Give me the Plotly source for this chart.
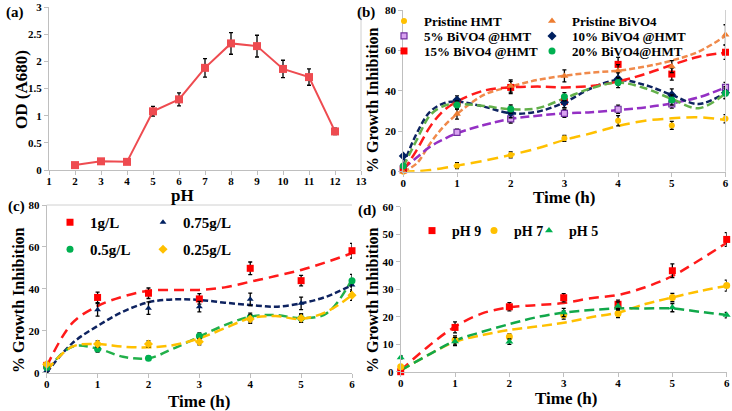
import plotly.graph_objects as go

W, H = 732, 411
SERIF = "Liberation Serif"

# ---------------- Panel (a) data ----------------
ph_values = [2, 3, 4, 5, 6, 7, 8, 9, 10, 11, 12]
od_a680 = [0.09, 0.16, 0.15, 1.08, 1.30, 1.88, 2.33, 2.28, 1.86, 1.71, 0.71]
od_err = [0.02, 0.03, 0.03, 0.09, 0.12, 0.17, 0.20, 0.20, 0.16, 0.15, 0.06]

# ---------------- Panel (b) data ----------------
time_h = [0, 1, 2, 3, 4, 5, 6]
b_names = ["Pristine HMT", "Pristine BiVO4", "5% BiVO4 @HMT",
           "10% BiVO4 @HMT", "15% BiVO4 @HMT", "20% BiVO4@HMT"]
b_hmt = [0, 3.0, 8.3, 16.5, 25.2, 22.9, 26.2]
b_bivo4 = [0, 28.5, 42.4, 47.4, 50.0, 52.0, 67.7]
b_5pct = [1.5, 19.5, 26.1, 28.9, 30.9, 33.5, 41.7]
b_10pct = [7.8, 35.5, 29.2, 34.2, 45.9, 38.0, 39.1]
b_15pct = [1.0, 33.8, 41.7, 34.7, 53.1, 48.3, 59.1]
b_20pct = [2.8, 33.0, 31.0, 37.1, 44.1, 35.5, 38.8]
b_hmt_err = [0.5, 1.5, 1.5, 1.5, 2.5, 2.0, 2.0]
b_bivo4_err = [0.5, 2.5, 3.0, 3.0, 3.0, 3.0, 5.0]
b_5pct_err = [0.5, 1.5, 2.0, 2.0, 2.0, 2.0, 2.5]
b_10pct_err = [0.5, 2.0, 2.5, 2.5, 3.0, 3.0, 3.0]
b_15pct_err = [0.5, 2.5, 3.0, 3.0, 3.5, 3.0, 3.5]
b_20pct_err = [0.5, 2.0, 2.0, 2.0, 2.5, 2.5, 2.5]
# trend lines
b_trend_t = [0, 0.25, 0.5, 0.75, 1, 1.5, 2, 2.5, 3, 3.5, 4, 4.5, 5, 5.5, 6]
b_hmt_trend = [0, 0.3, 0.8, 1.8, 3.0, 5.4, 8.3, 11.6, 15.7, 19.0, 22.6, 25.2, 26.4, 26.9, 25.6]
b_bivo4_trend = [0, 4.1, 14.0, 22.3, 28.5, 38.0, 42.1, 45.4, 47.5, 49.0, 50.0, 52.0, 55.0, 59.4, 67.2]
b_5pct_trend = [1.6, 7.0, 12.4, 16.0, 19.0, 23.1, 26.1, 27.7, 28.9, 29.4, 30.5, 31.8, 33.8, 36.8, 41.7]
b_10pct_trend = [3.3, 19.0, 29.7, 33.8, 34.7, 32.2, 28.9, 29.7, 34.3, 41.3, 45.4, 42.9, 38.0, 33.5, 39.1]
b_15pct_trend = [0.5, 10.7, 22.3, 30.2, 34.7, 40.1, 41.7, 42.1, 41.7, 42.4, 44.6, 48.3, 52.8, 56.9, 58.9]
b_20pct_trend = [2.5, 15.7, 28.0, 32.5, 33.5, 32.5, 30.9, 31.4, 36.3, 41.3, 44.1, 41.3, 36.0, 31.4, 38.8]

# ---------------- Panel (c) data ----------------
c_names = ["1g/L", "0.75g/L", "0.5g/L", "0.25g/L"]
c_1g = [3.5, 35.9, 37.9, 35.2, 49.8, 43.9, 58.2]
c_075g = [1.0, 30.0, 30.8, 31.5, 35.0, 33.1, 41.8]
c_05g = [2.5, 11.3, 6.9, 17.5, 26.4, 26.0, 43.9]
c_025g = [4.0, 13.7, 13.7, 14.8, 25.6, 26.0, 37.0]
c_1g_err = [1.0, 2.5, 2.5, 2.5, 3.0, 2.5, 3.5]
c_075g_err = [1.0, 3.0, 3.0, 2.5, 3.0, 3.0, 3.0]
c_05g_err = [1.0, 1.5, 1.0, 1.5, 2.0, 2.0, 3.0]
c_025g_err = [1.0, 1.5, 1.5, 1.5, 2.0, 2.0, 2.5]
c_trend_t = [0, 0.5, 1, 1.5, 2, 2.5, 3, 3.5, 4, 4.5, 5, 5.5, 6]
c_1g_trend = [3.0, 23.6, 31.8, 36.3, 39.1, 39.5, 39.5, 40.7, 43.4, 46.1, 49.0, 52.8, 57.0]
c_075g_trend = [0, 14.0, 22.3, 29.1, 33.6, 35.0, 34.7, 33.4, 32.3, 31.5, 33.1, 36.3, 41.8]
c_05g_trend = [1.0, 12.4, 11.5, 7.6, 6.9, 11.6, 17.2, 22.7, 26.7, 27.5, 26.0, 28.3, 44.5]
c_025g_trend = [1.0, 12.4, 13.7, 12.4, 12.1, 13.2, 16.4, 21.2, 26.0, 27.0, 25.6, 29.1, 37.0]

# ---------------- Panel (d) data ----------------
d_names = ["pH 9", "pH 7", "pH 5"]
d_ph9 = [0, 16.1, 23.6, 26.9, 24.5, 36.7, 48.1]
d_ph7 = [1.8, 11.5, 12.7, 20.6, 21.2, 27.0, 31.3]
d_ph5 = [5.2, 11.0, 10.9, 21.5, 23.9, 23.3, 20.6]
d_ph9_err = [0.5, 2.0, 1.5, 1.5, 1.5, 2.5, 2.5]
d_ph7_err = [0.5, 1.5, 1.0, 1.5, 1.5, 1.5, 2.0]
d_ph5_err = [0.5, 1.5, 1.0, 1.5, 1.5, 1.5, 1.0]
d_trend_t = [0, 0.5, 1, 1.5, 2, 2.5, 3, 3.5, 4, 4.5, 5, 5.5, 6]
d_ph9_trend = [0.5, 9.1, 16.4, 21.2, 23.4, 24.2, 25.0, 26.7, 27.9, 30.7, 34.8, 40.6, 46.9]
d_ph7_trend = [0.5, 6.0, 10.9, 13.3, 15.2, 16.4, 17.8, 19.8, 21.5, 24.6, 27.0, 29.3, 31.2]
d_ph5_trend = [0.5, 6.0, 11.3, 14.5, 17.3, 19.8, 21.5, 22.4, 23.0, 23.0, 23.0, 21.8, 20.6]

# ---------------- helpers (page pixels -> paper fractions) ----------------
def px_x(p):
    return p / W

def px_y(p):
    return 1 - p / H

def clamp(v):
    return min(1.0, max(0.0, v))

def err(vals):
    return dict(type="data", array=vals, visible=True, color="black", thickness=1.3, width=2)

fig = go.Figure()

def marker_trace(x, y, e, name, color, symbol, xa, ya, leg, size=7, line_color=None):
    fig.add_trace(go.Scatter(
        x=x, y=y, mode="markers", name=name, error_y=err(e),
        marker=dict(color=color, symbol=symbol, size=size,
                    line=dict(color=line_color or color, width=1.2 if line_color else 0)),
        xaxis=xa, yaxis=ya, legend=leg, showlegend=True, cliponaxis=False))

def trend_trace(x, y, color, dash, xa, ya, width=2.5):
    fig.add_trace(go.Scatter(
        x=x, y=y, mode="lines", line=dict(color=color, dash=dash, width=width, shape="spline", smoothing=1),
        xaxis=xa, yaxis=ya, showlegend=False, hoverinfo="skip", cliponaxis=False))

# Panel (a)
fig.add_trace(go.Scatter(
    x=ph_values, y=od_a680, mode="lines+markers", error_y=err(od_err),
    line=dict(color="#EE4B50", width=2),
    marker=dict(symbol="square", size=8, color="#EE4B50"),
    xaxis="x", yaxis="y", showlegend=False, cliponaxis=False))

# Panel (b)
GOLD, ORANGE, PURPLE, NAVY, RED, GREEN = "#FFC000", "#F08A4B", "#9430C4", "#0E2360", "#FF1A1A", "#63B04A"
trend_trace(b_trend_t, b_hmt_trend, GOLD, "11px,6px", "x2", "y2")
trend_trace(b_trend_t, b_bivo4_trend, ORANGE, "6px,3px", "x2", "y2")
trend_trace(b_trend_t, b_5pct_trend, PURPLE, "9px,4px", "x2", "y2")
trend_trace(b_trend_t, b_10pct_trend, NAVY, "6px,3px", "x2", "y2")
trend_trace(b_trend_t, b_15pct_trend, RED, "10px,5px", "x2", "y2")
trend_trace(b_trend_t, b_20pct_trend, GREEN, "8px,4px", "x2", "y2")
marker_trace(time_h, b_hmt, b_hmt_err, b_names[0], "#FFC000", "circle", "x2", "y2", "legend2", 6)
marker_trace(time_h, b_5pct, b_5pct_err, b_names[2], "#D9A2F0", "square", "x2", "y2", "legend3", 6, line_color="#7030A0")
marker_trace(time_h, b_15pct, b_15pct_err, b_names[4], "#FF0000", "square", "x2", "y2", "legend4", 7)
marker_trace(time_h, b_bivo4, b_bivo4_err, b_names[1], "#ED7D31", "triangle-up", "x2", "y2", "legend5", 7)
marker_trace(time_h, b_10pct, b_10pct_err, b_names[3], "#002060", "diamond", "x2", "y2", "legend6", 7)
marker_trace(time_h, b_20pct, b_20pct_err, b_names[5], "#00B050", "circle", "x2", "y2", "legend7", 7)

# Panel (c)
trend_trace(c_trend_t, c_1g_trend, "#FF1A1A", "10px,6px", "x3", "y3")
trend_trace(c_trend_t, c_075g_trend, "#0E2360", "6px,3px", "x3", "y3")
trend_trace(c_trend_t, c_05g_trend, "#22B04A", "9px,5px", "x3", "y3")
trend_trace(c_trend_t, c_025g_trend, "#FFC000", "10px,5px", "x3", "y3")
marker_trace(time_h, c_1g, c_1g_err, c_names[0], "#FF0000", "square", "x3", "y3", "legend8", 7)
marker_trace(time_h, c_075g, c_075g_err, c_names[1], "#002060", "triangle-up", "x3", "y3", "legend9", 6)
marker_trace(time_h, c_05g, c_05g_err, c_names[2], "#00B050", "circle", "x3", "y3", "legend10", 7)
marker_trace(time_h, c_025g, c_025g_err, c_names[3], "#FFC000", "diamond", "x3", "y3", "legend11", 7)

# Panel (d)
trend_trace(d_trend_t, d_ph9_trend, "#FF1A1A", "10px,6px", "x4", "y4")
trend_trace(d_trend_t, d_ph7_trend, "#FFC000", "10px,5px", "x4", "y4")
trend_trace(d_trend_t, d_ph5_trend, "#11A84A", "10px,5px", "x4", "y4")
marker_trace(time_h, d_ph9, d_ph9_err, d_names[0], "#FF0000", "square", "x4", "y4", "legend12", 7)
marker_trace(time_h, d_ph7, d_ph7_err, d_names[1], "#FFC000", "circle", "x4", "y4", "legend13", 7)
marker_trace(time_h, d_ph5, d_ph5_err, d_names[2], "#00B050", "triangle-up", "x4", "y4", "legend14", 7)

# ---------------- axes ----------------
tickfont = dict(family=SERIF, size=11, color="black", weight="bold")

def axis(domain, rng, dtick, anchor, standoff=None):
    d = dict(domain=[clamp(domain[0]), clamp(domain[1])], range=rng, dtick=dtick, tick0=rng[0],
             anchor=anchor, showline=True, linecolor="#BFBFBF", linewidth=1, ticks="outside",
             ticklen=4, tickcolor="#BFBFBF", showgrid=False, zeroline=False, tickfont=tickfont,
             fixedrange=True, automargin=False, ticklabeloverflow="allow")
    if standoff is not None:
        d["ticklabelstandoff"] = standoff
    return d

layout = dict(
    template="none",
    width=W, height=H, margin=dict(l=0, r=0, t=0, b=0, autoexpand=False),
    paper_bgcolor="white", plot_bgcolor="white", showlegend=True,
    xaxis=axis([px_x(49), px_x(361)], [1, 13], 1, "y", -3),
    yaxis=axis([px_y(170), px_y(7)], [0, 3], 0.5, "x"),
    xaxis2=axis([px_x(403.3), px_x(725.5)], [0, 6], 1, "y2", -3),
    yaxis2=axis([px_y(171.7), px_y(10)], [0, 80], 20, "x2"),
    xaxis3=axis([px_x(46.7), px_x(352)], [0, 6], 1, "y3", -3),
    yaxis3=axis([px_y(372.7), px_y(205)], [0, 80], 20, "x3"),
    xaxis4=axis([px_x(400.7), px_x(726.7)], [0, 6], 1, "y4", -3),
    yaxis4=axis([px_y(371.7), px_y(206.7)], [0, 60], 10, "x4"),
)

def legend(xl, row_center, size):
    # symbol sits ~20 px and text ~40 px right of the legend's left edge
    return dict(x=px_x(xl), y=clamp(px_y(row_center - 15)), xanchor="left", yanchor="top",
                bgcolor="rgba(0,0,0,0)", borderwidth=0, itemwidth=30, orientation="v",
                font=dict(family=SERIF, size=size, color="black", weight="bold"))

layout["legend2"] = legend(384, 21, 13)
layout["legend3"] = legend(384, 36, 13)
layout["legend4"] = legend(384, 51, 13)
layout["legend5"] = legend(532, 21, 13)
layout["legend6"] = legend(532, 36, 13)
layout["legend7"] = legend(532, 51, 13)
layout["legend8"] = legend(50, 221, 15)
layout["legend9"] = legend(143, 221, 15)
layout["legend10"] = legend(50, 248, 15)
layout["legend11"] = legend(143, 248, 15)
layout["legend12"] = legend(412, 230, 14)
layout["legend13"] = legend(474, 230, 14)
layout["legend14"] = legend(529, 230, 14)

fig.update_layout(**layout)

# ---------------- texts ----------------
def text(x, y, s, size, angle=0):
    fig.add_annotation(x=px_x(x), y=px_y(y), xref="paper", yref="paper", text=s, showarrow=False,
                       textangle=angle, xanchor="center", yanchor="middle",
                       font=dict(family=SERIF, size=size, color="black", weight="bold"))

text(15, 13, "(a)", 15)
text(366, 13, "(b)", 15)
text(16, 206, "(c)", 15)
text(367, 210, "(d)", 15)
text(22, 90, "OD (A680)", 17, -90)
text(182, 195, "pH", 17)
text(372, 100, "% Growth Inhibition", 16, -90)
text(564, 197, "Time (h)", 17)
text(18, 300, "% Growth Inhibition", 16, -90)
text(199, 401, "Time (h)", 17)
text(372, 300, "% Growth Inhibition", 16, -90)
text(566, 398, "Time (h)", 17)

# thin frame pieces
for xr, yr, x0, x1, y0, y1 in [("x domain", "y domain", 1, 1, 0, 1),
                               ("x2 domain", "y2 domain", 1, 1, 0, 1),
                               ("x3 domain", "y3 domain", 0, 1, 1, 1)]:
    fig.add_shape(type="line", xref=xr, yref=yr, x0=x0, x1=x1, y0=y0, y1=y1,
                  line=dict(color="#D0D0D0", width=1))

fig.write_html(
    "out.html",
    config={"displayModeBar": False},
    post_script="document.body.style.margin='0';document.body.style.overflow='hidden';",
)
